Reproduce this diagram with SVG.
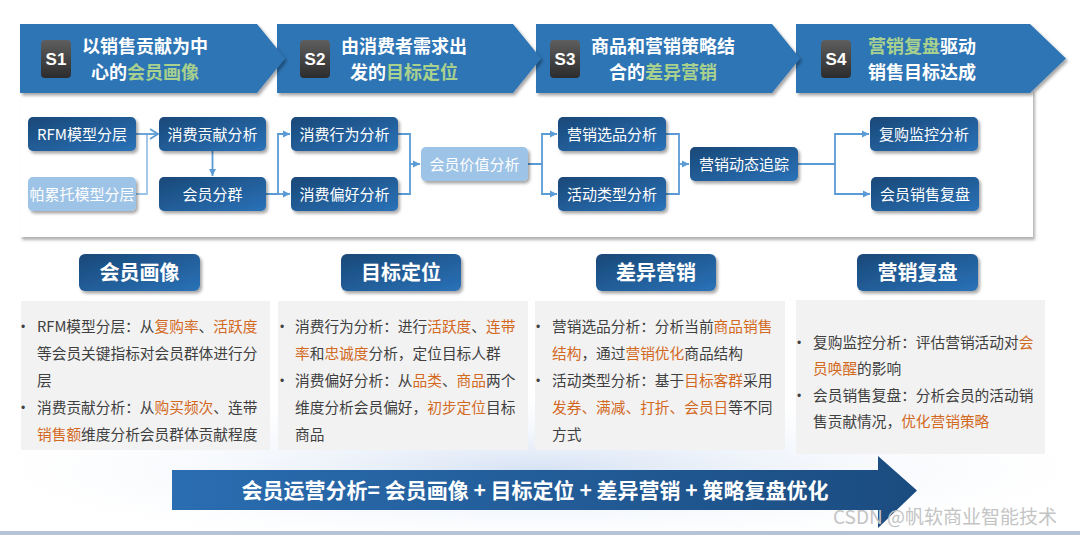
<svg xmlns="http://www.w3.org/2000/svg" width="1080" height="535" viewBox="0 0 1080 535">
<defs>
<linearGradient id="nodeGrad" x1="0" y1="0" x2="1" y2="1"><stop offset="0" stop-color="#1a4878"/><stop offset="1" stop-color="#2a72b8"/></linearGradient>
<linearGradient id="badgeGrad" x1="0" y1="0" x2="0" y2="1"><stop offset="0" stop-color="#5e5e5e"/><stop offset="1" stop-color="#2c2c2c"/></linearGradient>
<linearGradient id="bigArrow" x1="0" y1="0" x2="1" y2="0"><stop offset="0" stop-color="#2a6db1"/><stop offset="1" stop-color="#1b4c80"/></linearGradient>
<radialGradient id="glow" cx="0.5" cy="0.5" r="0.5"><stop offset="0" stop-color="#d6e2f4"/><stop offset="1" stop-color="#ffffff" stop-opacity="0"/></radialGradient>
<filter id="sh" x="-10%" y="-20%" width="130%" height="160%"><feDropShadow dx="2" dy="2.5" stdDeviation="1.6" flood-color="#000" flood-opacity="0.35"/></filter>
<filter id="shPanel" x="-5%" y="-10%" width="110%" height="130%"><feDropShadow dx="2" dy="3" stdDeviation="1.5" flood-color="#000" flood-opacity="0.3"/></filter>
<marker id="tri" markerUnits="userSpaceOnUse" markerWidth="8" markerHeight="8" refX="7" refY="4" orient="auto"><path d="M0,0.5 L7,4 L0,7.5 z" fill="#5b9bd5"/></marker>
<marker id="openV" markerUnits="userSpaceOnUse" markerWidth="12" markerHeight="12" refX="10" refY="6" orient="auto"><path d="M2,1 L10,6 L2,11" fill="none" stroke="#5b9bd5" stroke-width="1.8"/></marker>
<style>
.chev{fill:#2e74b5;filter:url(#sh);}
.badge{fill:url(#badgeGrad);}
.bt{font-family:"Liberation Sans","Noto Sans",sans-serif;font-weight:bold;font-size:17px;fill:#fff;text-anchor:middle;}
.ct{font-family:"Noto Sans CJK SC",sans-serif;font-weight:bold;font-size:18px;fill:#fff;text-anchor:middle;}
.g{fill:#a9d18e;}
.node{fill:url(#nodeGrad);filter:url(#sh);}
.light{fill:#9dc3e6;filter:url(#sh);}
.nt{font-family:"Noto Sans CJK SC",sans-serif;font-size:15px;fill:#fff;text-anchor:middle;}
.conn{fill:none;stroke:#5b9bd5;stroke-width:1.8;}
.connL{fill:none;stroke:#9dc3e6;stroke-width:1.8;}
.pill{fill:url(#nodeGrad);filter:url(#sh);}
.pt{font-family:"Noto Sans CJK SC",sans-serif;font-weight:bold;font-size:20px;fill:#fff;text-anchor:middle;}
.box{fill:#f2f2f2;}
.tx{font-family:"Noto Sans CJK SC",sans-serif;font-size:14.7px;fill:#404040;}
.o{fill:#d2691e;}
.bu{font-family:"Liberation Sans",sans-serif;font-size:12px;fill:#404040;}
.at{font-family:"Noto Sans CJK SC",sans-serif;font-weight:bold;font-size:21px;fill:#fff;text-anchor:middle;}
.wm{font-family:"Noto Sans CJK SC",sans-serif;font-size:19px;fill:#c4c4c4;}
</style>
</defs>
<rect width="1080" height="535" fill="#ffffff"/>
<ellipse cx="540" cy="470" rx="600" ry="85" fill="url(#glow)"/>
<rect x="0" y="531" width="1080" height="4" fill="#b6c2d6"/>

<!-- white panel -->
<rect id="panel" x="20" y="90" width="1013" height="147" fill="#ffffff" filter="url(#shPanel)"/>

<!-- chevrons -->
<g id="S4">
<path class="chev" d="M796,24 H1030 L1066,58.5 L1030,93 H796 Z"/>
<rect class="badge" x="821" y="40" width="30" height="38" rx="4"/>
<text class="bt" x="836" y="65">S4</text>
<text class="ct" x="922" y="53"><tspan class="g">营销复盘</tspan>驱动</text>
<text class="ct" x="922" y="79">销售目标达成</text>
</g>
<g id="S3">
<path class="chev" d="M536,24 H772 L800,58.5 L772,93 H536 Z"/>
<rect class="badge" x="550" y="40" width="30" height="38" rx="4"/>
<text class="bt" x="565" y="65">S3</text>
<text class="ct" x="663" y="53">商品和营销策略结</text>
<text class="ct" x="663" y="79">合的<tspan class="g">差异营销</tspan></text>
</g>
<g id="S2">
<path class="chev" d="M277,24 H513 L541,58.5 L513,93 H277 Z"/>
<rect class="badge" x="300" y="40" width="30" height="38" rx="4"/>
<text class="bt" x="315" y="65">S2</text>
<text class="ct" x="404" y="53">由消费者需求出</text>
<text class="ct" x="404" y="79">发的<tspan class="g">目标定位</tspan></text>
</g>
<g id="S1">
<path class="chev" d="M20,24 H257 L285,58.5 L257,93 H20 Z"/>
<rect class="badge" x="41" y="40" width="30" height="38" rx="4"/>
<text class="bt" x="56" y="65">S1</text>
<text class="ct" x="145" y="53">以销售贡献为中</text>
<text class="ct" x="145" y="79">心的<tspan class="g">会员画像</tspan></text>
</g>

<!-- connectors -->
<g id="connectors">
<path class="connL" d="M136,194 H147 V134"/>
<path class="conn" d="M136,134 H158" marker-end="url(#openV)"/>
<path class="conn" d="M212.5,151 V176" marker-end="url(#tri)"/>
<path class="conn" d="M266,194 H278 V134 H290" marker-end="url(#tri)"/>
<path class="conn" d="M278,194 H290" marker-end="url(#tri)"/>
<path class="conn" d="M398,134 H410 V194 H398"/>
<path class="conn" d="M410,164 H420" marker-end="url(#tri)"/>
<path class="conn" d="M528,164 H542 V134 H557" marker-end="url(#tri)"/>
<path class="conn" d="M542,164 V194 H557" marker-end="url(#tri)"/>
<path class="conn" d="M666,134 H679 V194 H666"/>
<path class="conn" d="M679,164 H689" marker-end="url(#tri)"/>
<path class="conn" d="M798,164 H835 V134 H869" marker-end="url(#tri)"/>
<path class="conn" d="M835,164 V194 H870" marker-end="url(#tri)"/>
</g>

<!-- nodes -->
<g id="n1"><rect class="node" x="28" y="117" width="108" height="34" rx="5"/><text class="nt" x="82" y="139.5">RFM模型分层</text></g>
<g id="n2"><rect class="light" x="28" y="177" width="108" height="34" rx="5"/><text class="nt" x="82" y="199.5">帕累托模型分层</text></g>
<g id="n3"><rect class="node" x="159" y="117" width="107" height="34" rx="5"/><text class="nt" x="212.5" y="139.5">消费贡献分析</text></g>
<g id="n4"><rect class="node" x="159" y="177" width="107" height="34" rx="5"/><text class="nt" x="212.5" y="199.5">会员分群</text></g>
<g id="n5"><rect class="node" x="291" y="117" width="107" height="34" rx="5"/><text class="nt" x="344.5" y="139.5">消费行为分析</text></g>
<g id="n6"><rect class="node" x="291" y="177" width="107" height="34" rx="5"/><text class="nt" x="344.5" y="199.5">消费偏好分析</text></g>
<g id="n7"><rect class="light" x="421" y="147" width="107" height="34" rx="5"/><text class="nt" x="474.5" y="169.5">会员价值分析</text></g>
<g id="n8"><rect class="node" x="558" y="117" width="108" height="34" rx="5"/><text class="nt" x="612" y="139.5">营销选品分析</text></g>
<g id="n9"><rect class="node" x="558" y="177" width="108" height="34" rx="5"/><text class="nt" x="612" y="199.5">活动类型分析</text></g>
<g id="n10"><rect class="node" x="690" y="147" width="108" height="34" rx="5"/><text class="nt" x="744" y="169.5">营销动态追踪</text></g>
<g id="n11"><rect class="node" x="870" y="117" width="108" height="34" rx="5"/><text class="nt" x="924" y="139.5">复购监控分析</text></g>
<g id="n12"><rect class="node" x="871" y="177" width="108" height="34" rx="5"/><text class="nt" x="925" y="199.5">会员销售复盘</text></g>

<!-- section headers -->
<g id="h1"><rect class="pill" x="79" y="254" width="121" height="37" rx="6"/><text class="pt" x="139.5" y="279.5">会员画像</text></g>
<g id="h2"><rect class="pill" x="341" y="254" width="120" height="37" rx="6"/><text class="pt" x="401" y="279.5">目标定位</text></g>
<g id="h3"><rect class="pill" x="596" y="254" width="120" height="37" rx="6"/><text class="pt" x="656" y="279.5">差异营销</text></g>
<g id="h4"><rect class="pill" x="857" y="254" width="121" height="37" rx="6"/><text class="pt" x="917.5" y="279.5">营销复盘</text></g>

<!-- text boxes -->
<g id="b1">
<rect class="box" x="21" y="301" width="249" height="149"/>
<text class="bu" x="21" y="331">•</text>
<text class="tx" x="37" y="332">RFM模型分层：从<tspan class="o">复购率</tspan>、<tspan class="o">活跃度</tspan></text>
<text class="tx" x="37" y="359">等会员关键指标对会员群体进行分</text>
<text class="tx" x="37" y="386">层</text>
<text class="bu" x="21" y="412">•</text>
<text class="tx" x="37" y="413">消费贡献分析：从<tspan class="o">购买频次</tspan>、连带</text>
<text class="tx" x="37" y="440"><tspan class="o">销售额</tspan>维度分析会员群体贡献程度</text>
</g>
<g id="b2">
<rect class="box" x="278" y="301" width="250" height="149"/>
<text class="bu" x="280" y="331">•</text>
<text class="tx" x="295" y="332">消费行为分析：进行<tspan class="o">活跃度</tspan>、<tspan class="o">连带</tspan></text>
<text class="tx" x="295" y="359"><tspan class="o">率</tspan>和<tspan class="o">忠诚度</tspan>分析，定位目标人群</text>
<text class="bu" x="280" y="385">•</text>
<text class="tx" x="295" y="386">消费偏好分析：从<tspan class="o">品类</tspan>、<tspan class="o">商品</tspan>两个</text>
<text class="tx" x="295" y="413">维度分析会员偏好，<tspan class="o">初步定位</tspan>目标</text>
<text class="tx" x="295" y="440">商品</text>
</g>
<g id="b3">
<rect class="box" x="535" y="301" width="250" height="149"/>
<text class="bu" x="536" y="331">•</text>
<text class="tx" x="552" y="332">营销选品分析：分析当前<tspan class="o">商品销售</tspan></text>
<text class="tx" x="552" y="359"><tspan class="o">结构</tspan>，通过<tspan class="o">营销优化</tspan>商品结构</text>
<text class="bu" x="536" y="385">•</text>
<text class="tx" x="552" y="386">活动类型分析：基于<tspan class="o">目标客群</tspan>采用</text>
<text class="tx" x="552" y="413"><tspan class="o">发券、满减、打折、会员日</tspan>等不同</text>
<text class="tx" x="552" y="440">方式</text>
</g>
<g id="b4">
<rect class="box" x="796" y="300" width="249" height="154"/>
<text class="bu" x="797" y="347">•</text>
<text class="tx" x="813" y="348">复购监控分析：评估营销活动对<tspan class="o">会</tspan></text>
<text class="tx" x="813" y="374"><tspan class="o">员唤醒</tspan>的影响</text>
<text class="bu" x="797" y="400">•</text>
<text class="tx" x="813" y="401">会员销售复盘：分析会员的活动销</text>
<text class="tx" x="813" y="427">售贡献情况，<tspan class="o">优化营销策略</tspan></text>
</g>

<!-- bottom arrow -->
<g id="summary">
<path d="M172,470 H878 V456 L917,490.5 L878,528 V510 H172 Z" fill="url(#bigArrow)"/>
<text class="at" x="535" y="497.5">会员运营分析= 会员画像 + 目标定位 + 差异营销 + 策略复盘优化</text>
</g>
<text class="wm" x="833" y="524">CSDN @帆软商业智能技术</text>
</svg>
